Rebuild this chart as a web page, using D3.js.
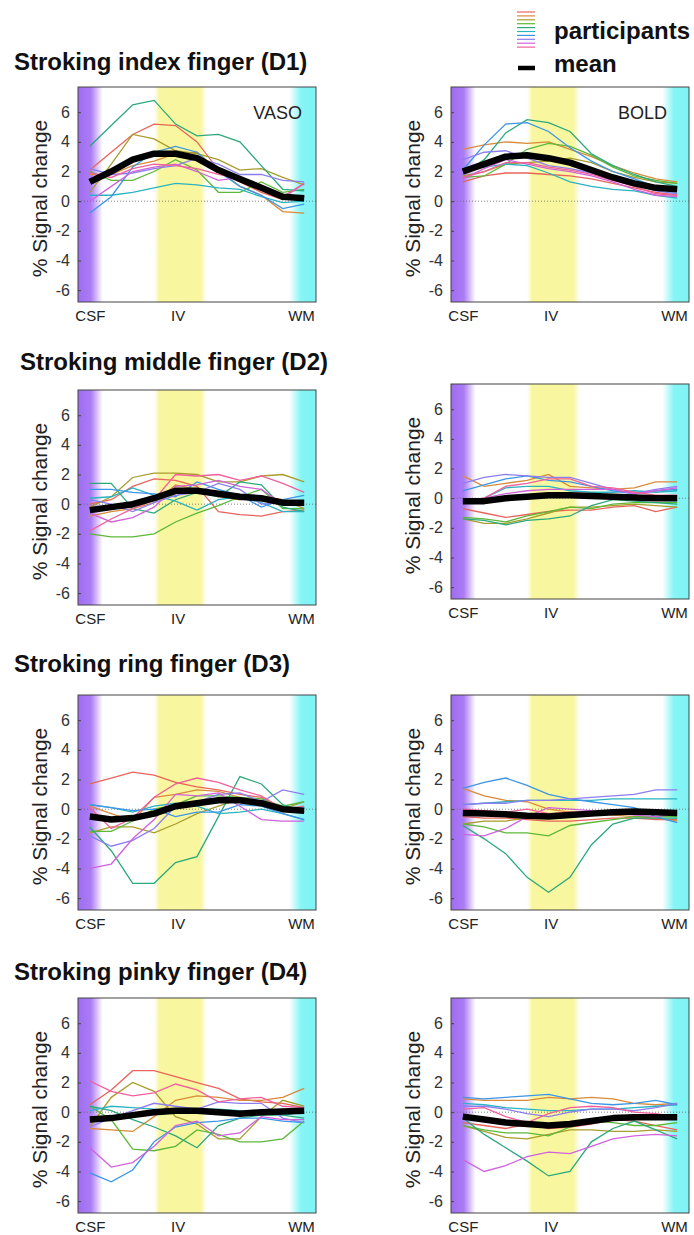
<!DOCTYPE html>
<html>
<head>
<meta charset="utf-8">
<script src="https://cdn.jsdelivr.net/npm/d3@7"></script>
<style>
  body { margin: 0; background: #fff; }
  text { font-family: "Liberation Sans", Arial, Helvetica, sans-serif; }
</style>
</head>
<body>
<div id="graph"></div>
<script>
// cortical depth samples, CSF -> WM
const depth = [0, 1, 2, 3, 4, 5, 6, 7, 8, 9, 10];
const depthLabels = ["CSF", "IV", "WM"];
const depthLabelPos = [0, 4.1, 9.85];
const yTicks = [-6, -4, -2, 0, 2, 4, 6];

// participants: red, orange, olive, green, teal-green, cyan, blue, purple, magenta, pink
const participantColors = ["#e8645a", "#d98a3a", "#a89c2c", "#5db83a", "#2ba97a",
    "#2ab3c0", "#3c95e6", "#8c7ef0", "#d062dc", "#f0609a"];

const titles = ["Stroking index finger (D1)", "Stroking middle finger (D2)",
    "Stroking ring finger (D3)", "Stroking pinky finger (D4)"];
const contrasts = ["VASO", "BOLD"];

const d1Vaso = [
    [2.1, 3.3, 4.5, 5.2, 5.1, 4.0, 2.1, 1.3, 0.6, 0.1, 0.3],
    [1.8, 1.8, 2.4, 2.7, 3.2, 3.3, 2.1, 1.0, 0.4, -0.7, -0.8],
    [0.6, 2.5, 4.5, 4.2, 3.4, 3.2, 2.8, 2.1, 2.2, 1.6, 1.1],
    [2.0, 1.4, 1.4, 2.0, 2.8, 2.1, 0.6, 0.6, 1.3, 0.6, 0.8],
    [3.7, 5.1, 6.5, 6.8, 5.2, 4.4, 4.5, 4.0, 2.4, 0.8, 0.7],
    [0.4, 0.4, 0.6, 0.9, 1.2, 1.1, 0.9, 0.8, 0.3, -0.1, 0.0],
    [-0.8, 0.3, 2.3, 3.3, 3.7, 3.3, 2.0, 1.0, 0.4, -0.5, -0.2],
    [2.2, 1.8, 1.9, 2.2, 2.4, 2.9, 2.5, 1.8, 1.8, 1.4, 1.3],
    [0.0, 1.0, 2.0, 2.3, 2.5, 2.0, 1.4, 1.6, 1.0, 0.2, 1.2],
    [1.9, 1.6, 2.2, 2.5, 2.4, 2.2, 1.8, 1.5, 0.9, 0.3, 1.2]
];
const d1VasoMean = [1.3, 2.0, 2.8, 3.2, 3.2, 2.9, 2.1, 1.5, 0.9, 0.3, 0.2];

const d1Bold = [
    [1.3, 1.7, 1.9, 1.9, 1.8, 1.7, 1.5, 1.2, 0.9, 0.6, 0.4],
    [3.5, 3.8, 4.0, 3.9, 4.0, 3.5, 3.0, 2.4, 1.9, 1.5, 1.3],
    [1.7, 2.0, 2.5, 2.6, 2.7, 2.9, 2.6, 2.0, 1.6, 1.3, 1.2],
    [1.6, 1.7, 2.5, 3.5, 3.9, 3.7, 3.1, 2.3, 1.7, 1.4, 1.2],
    [1.8, 2.8, 4.6, 5.5, 5.3, 4.7, 3.2, 2.4, 1.8, 1.3, 1.0],
    [2.2, 2.3, 2.5, 2.4, 1.9, 1.3, 1.0, 0.8, 0.7, 0.4, 0.2],
    [2.1, 3.8, 5.2, 5.3, 4.7, 3.6, 2.7, 2.0, 1.5, 1.0, 0.8],
    [2.8, 3.3, 3.4, 2.9, 2.4, 2.2, 1.9, 1.6, 1.2, 0.7, 0.5],
    [1.5, 2.2, 2.8, 2.5, 2.2, 2.0, 1.7, 1.3, 0.8, 0.4, 0.3],
    [1.6, 2.0, 2.6, 2.6, 2.3, 2.1, 1.8, 1.4, 1.0, 0.5, 0.4]
];
const d1BoldMean = [2.0, 2.5, 3.0, 3.1, 2.9, 2.6, 2.1, 1.6, 1.2, 0.9, 0.8];

const d2Vaso = [
    [0.0, 0.3, 1.2, 1.7, 1.6, 1.2, -0.5, -0.7, -0.8, -0.5, -0.4],
    [-0.8, -0.5, -0.3, 0.1, 1.3, 1.0, 0.5, 0.3, 0.5, 0.3, -0.3],
    [-0.2, 0.5, 1.8, 2.1, 2.1, 2.0, 1.5, 1.5, 1.9, 2.0, 1.5],
    [-2.0, -2.2, -2.2, -2.0, -1.2, -0.6, -0.1, 0.5, 1.0, -0.3, -0.3],
    [1.4, 1.4, -0.3, -0.6, 0.3, 0.8, 0.5, 1.5, 1.3, -0.2, -0.5],
    [0.4, 0.5, 1.1, 0.6, 0.2, -0.4, 0.3, 0.5, 0.1, -0.5, -0.5],
    [1.0, 1.0, 0.8, 0.7, 0.5, 1.5, 1.0, 0.6, -0.2, 0.3, 0.6],
    [0.3, 0.0, -0.5, 0.1, 0.6, 0.8, 1.4, 1.0, 0.0, 0.1, 0.2],
    [-0.6, -1.2, -0.9, -0.2, 1.2, 1.3, 1.6, 1.2, 1.0, 0.0, 0.0],
    [-1.8, -1.0, -0.3, 0.3, 2.0, 1.9, 2.0, 1.6, 1.9, 1.4, 0.8]
];
const d2VasoMean = [-0.4, -0.2, 0.0, 0.4, 0.9, 0.9, 0.7, 0.5, 0.4, 0.1, 0.1];

const d2Bold = [
    [-0.7, -1.0, -1.3, -1.1, -0.9, -0.8, -0.8, -0.6, -0.5, -0.9, -0.6],
    [1.5, 0.8, 1.0, 1.2, 1.6, 0.8, 0.7, 0.6, 0.7, 1.1, 1.1],
    [-1.4, -1.7, -1.7, -1.4, -1.0, -0.6, -0.6, -0.5, -0.4, -0.5, -0.6],
    [-1.3, -1.4, -1.6, -1.2, -0.9, -0.6, -0.7, -0.4, -0.3, -0.3, -0.3],
    [-1.4, -1.5, -1.8, -1.5, -1.4, -1.2, -0.5, -0.1, -0.2, -0.3, -0.4],
    [-0.3, 0.0, 0.7, 0.8, 0.8, 0.5, 0.4, 0.4, 0.5, 0.4, 0.5],
    [0.5, 0.9, 1.3, 1.5, 1.2, 1.1, 0.8, 0.5, 0.3, 0.5, 0.6],
    [1.0, 1.4, 1.6, 1.5, 1.4, 1.4, 1.0, 0.6, 0.3, 0.6, 0.8],
    [-0.3, 0.0, 0.3, 0.5, 0.6, 0.6, 0.6, 0.6, 0.3, 0.5, 0.7],
    [-0.2, 0.0, 0.8, 1.0, 1.3, 1.3, 0.8, 0.7, 0.4, 0.2, 0.2]
];
const d2BoldMean = [-0.2, -0.2, 0.0, 0.1, 0.2, 0.2, 0.15, 0.1, 0.05, 0.0, 0.0];

const d3Vaso = [
    [1.7, 2.1, 2.5, 2.3, 1.8, 1.5, 1.3, 1.0, 0.8, 0.0, -0.2],
    [0.2, -0.3, -0.8, 0.8, 1.0, 1.3, 1.2, 0.8, 0.5, 0.0, -0.2],
    [-1.6, -1.2, -1.2, -1.6, -1.0, -0.3, 0.2, 0.7, 0.5, 0.0, 0.5],
    [-1.5, -1.5, -0.8, 0.0, 0.3, 0.9, 0.9, 0.8, 0.7, 0.2, 0.5],
    [-1.2, -2.8, -5.0, -5.0, -3.6, -3.2, -0.5, 2.2, 1.7, 0.3, -0.2],
    [0.3, 0.1, -0.2, 0.2, 0.4, 0.2, -0.3, -0.2, 0.0, -0.3, -0.7],
    [0.3, 0.1, -0.1, 0.0, -0.5, -0.2, -0.2, 0.3, 0.2, -0.3, -0.7],
    [-1.8, -2.5, -2.1, -1.3, 0.2, 0.5, 1.0, 1.1, 0.5, 1.3, 1.0],
    [-4.0, -3.7, -2.0, -0.7, 1.0, 0.9, 1.1, 0.2, -0.7, -0.8, -0.8],
    [0.1, -1.3, -0.6, 0.8, 1.7, 2.1, 1.8, 1.3, 0.9, 0.0, 0.2]
];
const d3VasoMean = [-0.5, -0.7, -0.6, -0.3, 0.2, 0.4, 0.6, 0.6, 0.4, 0.0, -0.1];

const d3Bold = [
    [-0.5, -0.6, -0.6, -0.7, -0.8, -0.8, -0.7, -0.6, -0.6, -0.7, -0.7],
    [1.4, 0.9, 0.6, 0.5, 0.0, -0.2, -0.2, -0.4, -0.5, -0.6, -0.8],
    [-1.0, -0.8, -0.8, -0.6, -0.4, -0.4, -0.3, -0.2, -0.3, -0.3, -0.3],
    [-1.0, -1.2, -1.6, -1.6, -1.8, -1.1, -0.9, -0.7, -0.5, -0.5, -0.5],
    [-1.1, -2.0, -3.0, -4.6, -5.6, -4.6, -2.4, -1.0, -0.6, -0.6, -0.6],
    [0.3, 0.4, 0.5, 0.6, 0.6, 0.6, 0.6, 0.7, 0.7, 0.7, 0.7],
    [1.4, 1.8, 2.1, 1.6, 1.0, 0.7, 0.5, 0.3, 0.1, -0.5, -0.9],
    [0.3, 0.4, 0.4, 0.6, 0.6, 0.7, 0.8, 0.9, 1.0, 1.3, 1.3],
    [-1.7, -1.8, -1.3, -0.5, 0.1, 0.0, -0.1, -0.2, -0.4, -0.5, -0.3],
    [0.0, -0.1, -0.2, 0.0, -0.3, -0.2, -0.2, -0.1, -0.2, -0.3, -0.4]
];
const d3BoldMean = [-0.25, -0.3, -0.35, -0.45, -0.5, -0.4, -0.3, -0.2, -0.15, -0.2, -0.25];

const d4Vaso = [
    [0.5, 1.5, 2.8, 2.8, 2.4, 2.0, 1.6, 0.9, 0.7, 0.6, 0.3],
    [-1.1, -1.2, -1.3, -0.3, 0.8, 1.1, 1.0, 0.8, 0.8, 1.0, 1.6],
    [-1.0, 1.0, 2.0, 1.4, -0.3, -0.8, -1.8, -1.8, -0.3, 0.8, 0.4],
    [0.4, -0.5, -2.5, -2.6, -2.3, -1.2, -1.5, -2.0, -2.0, -1.8, -0.6],
    [0.4, 0.1, -0.5, -1.0, -1.6, -2.4, -0.9, -0.4, -0.2, -0.2, -0.4],
    [0.1, 0.4, 0.3, 0.2, 0.1, 0.2, 0.2, 0.1, 0.0, -0.2, 0.0],
    [-4.1, -4.7, -3.9, -2.0, -1.0, -0.7, -0.6, -0.4, -0.4, -0.6, -0.7],
    [-1.0, -0.4, 0.1, 0.6, 0.4, 0.2, 0.7, 0.6, 0.6, -0.4, -0.7],
    [-2.4, -3.7, -3.4, -2.3, -0.9, -0.6, -1.6, -1.4, -0.3, -0.5, -0.5],
    [2.1, 1.4, 1.1, 1.3, 1.9, 1.5, 0.7, 0.9, 1.0, 0.4, 0.3]
];
const d4VasoMean = [-0.5, -0.4, -0.2, 0.0, 0.1, 0.1, 0.0, -0.1, 0.0, 0.05, 0.1];

const d4Bold = [
    [-0.7, -0.9, -1.1, -0.8, -1.1, -1.0, -0.8, -0.5, -0.6, -0.9, -1.2],
    [0.9, 0.8, 0.8, 0.8, 1.0, 0.9, 1.0, 0.9, 0.6, 0.5, 0.6],
    [-0.9, -1.3, -1.7, -1.8, -1.5, -1.2, -1.2, -1.3, -1.3, -1.2, -1.3],
    [-0.9, -1.2, -1.4, -1.4, -1.6, -1.0, -0.6, -0.7, -0.9, -0.9, -0.7],
    [-0.4, -1.5, -2.4, -3.3, -4.3, -4.0, -2.0, -1.1, -0.6, -1.2, -1.8],
    [0.6, 0.5, 0.3, 0.2, 0.1, 0.1, 0.2, 0.2, 0.3, 0.4, 0.5],
    [1.0, 0.9, 1.0, 1.1, 1.2, 0.9, 0.6, 0.5, 0.6, 0.8, 0.5],
    [0.4, 0.4, 0.2, -0.1, -0.3, 0.0, 0.2, 0.2, 0.1, 0.3, 0.6],
    [-3.2, -4.0, -3.6, -3.0, -2.7, -2.8, -2.3, -1.8, -1.6, -1.5, -1.6],
    [0.2, 0.3, -0.3, -0.7, -0.1, 0.3, 0.4, 0.3, 0.0, -0.1, -0.3]
];
const d4BoldMean = [-0.3, -0.5, -0.7, -0.8, -0.9, -0.8, -0.6, -0.4, -0.35, -0.35, -0.35];

// layout
const W = 694, H = 1235;
const panelW = 238, panelH = 215;
const colX = [78, 451];
const rowTop = [[87, 87], [390, 384], [695, 695], [998, 998]];
const titlePos = [[14, 70], [20, 370], [14, 672], [14, 980]];

const panels = [
    {row: 0, col: 0, lines: d1Vaso, mean: d1VasoMean},
    {row: 0, col: 1, lines: d1Bold, mean: d1BoldMean},
    {row: 1, col: 0, lines: d2Vaso, mean: d2VasoMean},
    {row: 1, col: 1, lines: d2Bold, mean: d2BoldMean},
    {row: 2, col: 0, lines: d3Vaso, mean: d3VasoMean},
    {row: 2, col: 1, lines: d3Bold, mean: d3BoldMean},
    {row: 3, col: 0, lines: d4Vaso, mean: d4VasoMean},
    {row: 3, col: 1, lines: d4Bold, mean: d4BoldMean}
];

const x = d3.scaleLinear().domain([-0.55, 10.55]).range([0, panelW]);
const y = d3.scaleLinear().domain([-6.8, 7.7]).range([panelH, 0]);

const svg = d3.select("#graph")
    .append("svg")
    .attr("width", W)
    .attr("height", H);

const defs = svg.append("defs");

// background bands (CSF purple, IV yellow, WM cyan) as one horizontal gradient
const bandStops = [
    [-0.55, "#9f6cf0"], [0.05, "#ab7cf5"], [0.6, "#ffffff"],
    [3.0, "#ffffff"], [3.25, "#f8f69e"], [5.15, "#f8f69e"], [5.45, "#ffffff"],
    [9.3, "#ffffff"], [9.85, "#86f5f6"], [10.55, "#7ef3f5"]
];
const grad = defs.append("linearGradient")
    .attr("id", "bands")
    .attr("x1", 0).attr("x2", 1).attr("y1", 0).attr("y2", 0);
grad.selectAll("stop")
    .data(bandStops)
    .enter().append("stop")
    .attr("offset", function(d) { return x(d[0]) / panelW; })
    .attr("stop-color", function(d) { return d[1]; });

const line = d3.line()
    .x(function(d, i) { return x(depth[i]); })
    .y(function(d) { return y(d); });

// titles
svg.selectAll(".title")
    .data(titles)
    .enter().append("text")
    .attr("class", "title")
    .attr("x", function(d, i) { return titlePos[i][0]; })
    .attr("y", function(d, i) { return titlePos[i][1]; })
    .style("font-size", "24px")
    .style("font-weight", "bold")
    .style("fill", "#111")
    .text(function(d) { return d; });

panels.forEach(function(p) {
    const g = svg.append("g")
        .attr("transform", "translate(" + colX[p.col] + "," + rowTop[p.row][p.col] + ")");

    g.append("rect")
        .attr("width", panelW)
        .attr("height", panelH)
        .attr("fill", "url(#bands)");

    // zero line
    g.append("line")
        .attr("x1", 0).attr("x2", panelW)
        .attr("y1", y(0)).attr("y2", y(0))
        .attr("stroke", "#666")
        .attr("stroke-width", 0.8)
        .attr("stroke-dasharray", "1,2");

    g.selectAll(".part")
        .data(p.lines)
        .enter().append("path")
        .attr("class", "part")
        .attr("d", line)
        .attr("fill", "none")
        .attr("stroke", function(d, i) { return participantColors[i]; })
        .attr("stroke-width", 1.3);

    g.append("path")
        .attr("d", line(p.mean))
        .attr("fill", "none")
        .attr("stroke", "#000")
        .attr("stroke-width", 6.5)
        .attr("stroke-linejoin", "round");

    g.append("rect")
        .attr("width", panelW)
        .attr("height", panelH)
        .attr("fill", "none")
        .attr("stroke", "#444")
        .attr("stroke-width", 1);

    // y axis
    const ax = g.append("g")
        .call(d3.axisLeft(y).tickValues(yTicks).tickSize(-3).tickPadding(8)
            .tickFormat(function(d) { return d; }));
    ax.select(".domain").remove();
    ax.selectAll("line").attr("stroke", "#444");
    ax.selectAll("text")
        .style("font-size", "16px")
        .style("font-family", "'Liberation Sans', Arial, sans-serif")
        .attr("fill", "#333");

    // x labels
    const bx = g.append("g")
        .attr("transform", "translate(0," + panelH + ")")
        .call(d3.axisBottom(x).tickValues(depthLabelPos).tickSize(0).tickPadding(8)
            .tickFormat(function(d, i) { return depthLabels[i]; }));
    bx.select(".domain").remove();
    bx.selectAll("text")
        .style("font-size", "15px")
        .style("font-family", "'Liberation Sans', Arial, sans-serif")
        .attr("fill", "#222");

    g.append("text")
        .attr("transform", "translate(-31," + (panelH / 2 + 4) + ") rotate(-90)")
        .attr("text-anchor", "middle")
        .style("font-size", "21px")
        .style("fill", "#222")
        .text("% Signal change");

    if (p.row === 0) {
        g.append("text")
            .attr("x", p.col === 0 ? panelW - 14 : panelW - 22)
            .attr("y", 32)
            .attr("text-anchor", "end")
            .style("font-size", "18px")
            .style("fill", "#222")
            .text(contrasts[p.col]);
    }
});

// legend
const leg = svg.append("g");
leg.selectAll(".legline")
    .data(participantColors)
    .enter().append("line")
    .attr("x1", 517).attr("x2", 535)
    .attr("y1", function(d, i) { return 12 + i * 3.9; })
    .attr("y2", function(d, i) { return 12 + i * 3.9; })
    .attr("stroke", function(d) { return d; })
    .attr("stroke-width", 1.2);
leg.append("line")
    .attr("x1", 518).attr("x2", 535)
    .attr("y1", 68).attr("y2", 68)
    .attr("stroke", "#000")
    .attr("stroke-width", 4.5);
leg.append("text")
    .attr("x", 554).attr("y", 39)
    .style("font-size", "24px").style("font-weight", "bold").style("fill", "#111")
    .text("participants");
leg.append("text")
    .attr("x", 554).attr("y", 72)
    .style("font-size", "24px").style("font-weight", "bold").style("fill", "#111")
    .text("mean");
</script>
</body>
</html>
